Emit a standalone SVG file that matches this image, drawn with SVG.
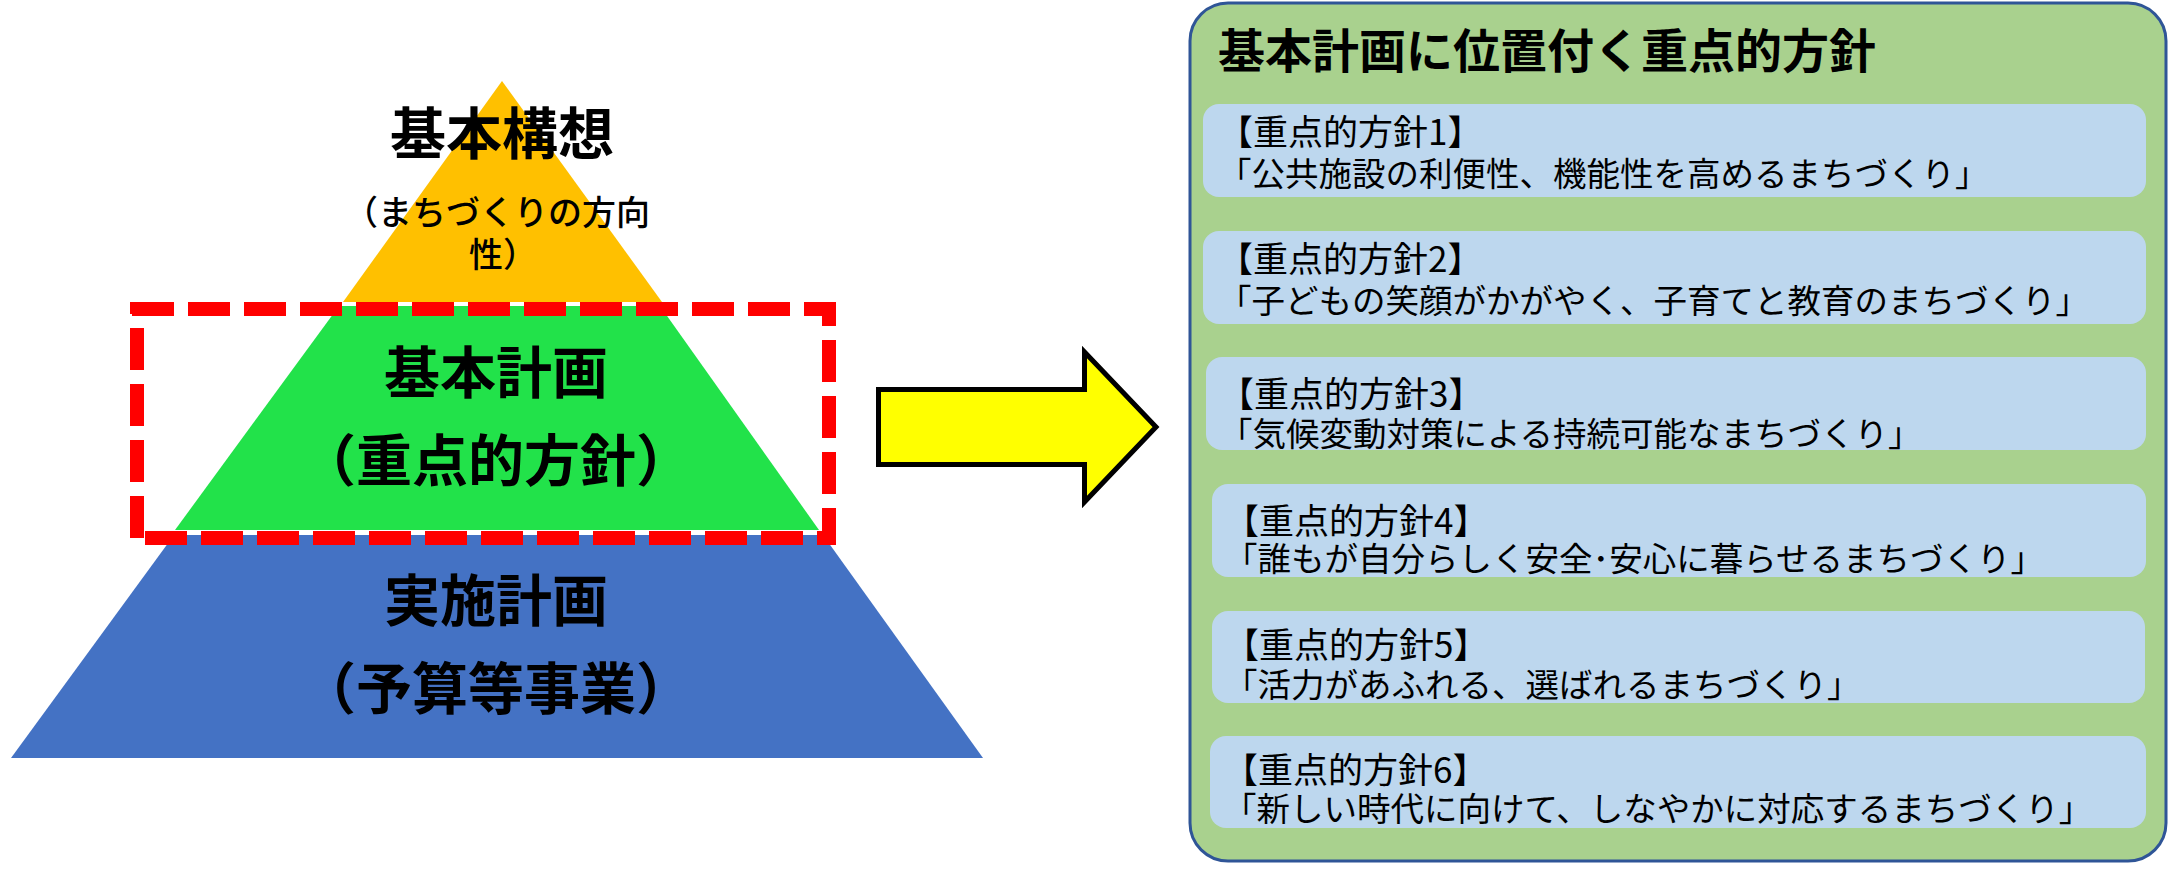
<svg xmlns="http://www.w3.org/2000/svg" width="2169" height="869" viewBox="0 0 2169 869">
<style>
  .jp { font-family: "Noto Sans CJK JP", "Noto Sans CJK SC", sans-serif; fill: #000; }
  .big { font-size: 56px; font-weight: bold; text-anchor: middle; }
  .mid { font-size: 34px; font-weight: 500; text-anchor: middle; }
  .title { font-size: 47px; font-weight: bold; }
  .head { font-size: 35px; }
  .item { font-size: 33.5px; }
  .box { fill: #BDD7EE; }
  .frame { fill: none; stroke: #FF0000; stroke-width: 14; stroke-dasharray: 42 14; stroke-linecap: butt; stroke-linejoin: miter; }
</style>
<rect x="0" y="0" width="2169" height="869" fill="#FFFFFF"/>

<g id="pyramid-top">
  <polygon points="502,81 343,302 662,302" fill="#FFC000"/>
  <text class="jp big" x="502" y="154">基本構想</text>
  <text class="jp mid"><tspan x="497" y="225">（まちづくりの方向</tspan><tspan x="503" y="267">性）</tspan></text>
</g>

<g id="pyramid-middle">
  <polygon points="339,306 660,306 819,530 175,530" fill="#22E24A"/>
  <text class="jp big" x="496" y="393">基本計画</text>
  <text class="jp big" x="496" y="481">（重点的方針）</text>
</g>

<g id="pyramid-bottom">
  <polygon points="174,535 823,535 983,758 11,758" fill="#4472C4"/>
  <text class="jp big" x="496" y="621">実施計画</text>
  <text class="jp big" x="496" y="709">（予算等事業）</text>
</g>

<g id="focus-frame">
  <path class="frame" d="M132,309 H829 V538 H137"/>
  <path class="frame" d="M137,538 V302"/>
</g>

<g id="connectors">
  <polygon points="878.5,389.5 1084.5,389.5 1084.5,352 1156,427 1084.5,502 1084.5,464.5 878.5,464.5" fill="#FFFF00" stroke="#000000" stroke-width="5" stroke-linejoin="miter"/>
</g>

<g id="panel">
  <rect x="1190" y="3" width="976" height="858" rx="38" ry="38" fill="#A9D18E" stroke="#2F5597" stroke-width="3"/>
  <text class="jp title" x="1218" y="68">基本計画に位置付く重点的方針</text>
</g>

<g id="policy-1">
  <rect class="box" x="1203" y="104" width="943" height="93" rx="16"/>
  <text class="jp"><tspan class="head" x="1218" y="145">【重点的方針1】</tspan><tspan class="item" x="1218" y="186">「公共施設の利便性、機能性を高めるまちづくり」</tspan></text>
</g>

<g id="policy-2">
  <rect class="box" x="1203" y="231" width="943" height="93" rx="16"/>
  <text class="jp"><tspan class="head" x="1218" y="272">【重点的方針2】</tspan><tspan class="item" x="1218" y="313">「子どもの笑顔がかがやく、子育てと教育のまちづくり」</tspan></text>
</g>

<g id="policy-3">
  <rect class="box" x="1206" y="357" width="940" height="93" rx="16"/>
  <text class="jp"><tspan class="head" x="1219" y="407">【重点的方針3】</tspan><tspan class="item" x="1219" y="446">「気候変動対策による持続可能なまちづくり」</tspan></text>
</g>

<g id="policy-4">
  <rect class="box" x="1212" y="484" width="934" height="93" rx="16"/>
  <text class="jp"><tspan class="head" x="1224" y="534">【重点的方針4】</tspan><tspan class="item" x="1224" y="571">「誰もが自分らしく安全･安心に暮らせるまちづくり」</tspan></text>
</g>

<g id="policy-5">
  <rect class="box" x="1212" y="611" width="933" height="92" rx="16"/>
  <text class="jp"><tspan class="head" x="1224" y="658">【重点的方針5】</tspan><tspan class="item" x="1224" y="697">「活力があふれる、選ばれるまちづくり」</tspan></text>
</g>

<g id="policy-6">
  <rect class="box" x="1210" y="736" width="936" height="92" rx="16"/>
  <text class="jp"><tspan class="head" x="1223" y="783">【重点的方針6】</tspan><tspan class="item" x="1223" y="821">「新しい時代に向けて、しなやかに対応するまちづくり」</tspan></text>
</g>
</svg>
